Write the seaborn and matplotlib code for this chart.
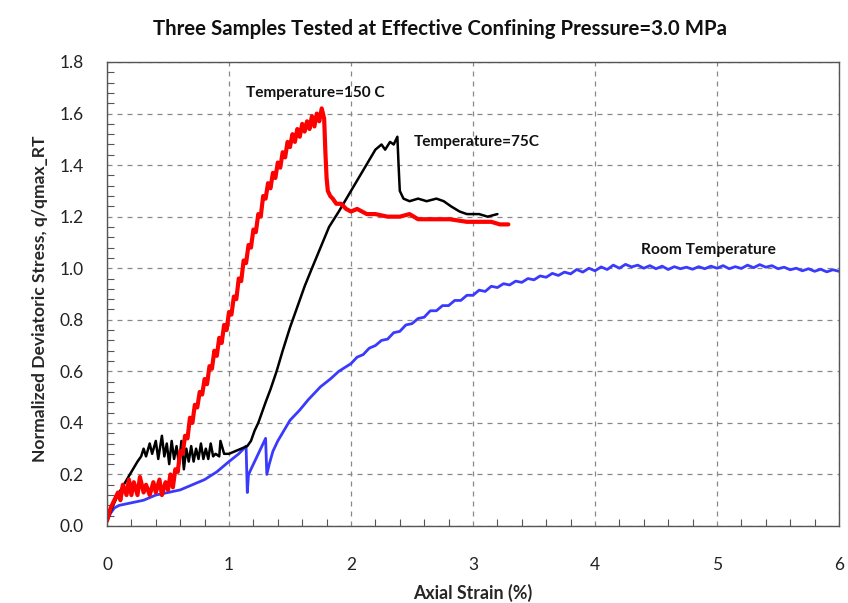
import numpy as np
import pandas as pd
import matplotlib
matplotlib.use("Agg")
import matplotlib.pyplot as plt
import seaborn as sns

# ---------------- data ----------------
red_x = [0.00, 0.03, 0.06, 0.09, 0.11, 0.13, 0.16, 0.18, 0.20, 0.22, 0.25, 0.27, 0.30, 0.32,
         0.35, 0.38, 0.40, 0.43, 0.45, 0.48, 0.50, 0.52, 0.54,
         0.56, 0.58, 0.60, 0.62, 0.64, 0.66, 0.68, 0.70, 0.72, 0.74, 0.76, 0.78, 0.80, 0.82,
         0.84, 0.86, 0.88, 0.90, 0.92, 0.94, 0.96, 0.98, 1.00, 1.02, 1.04, 1.06, 1.08, 1.10,
         1.12, 1.14, 1.16, 1.18, 1.20, 1.22, 1.24, 1.26, 1.28, 1.30, 1.32, 1.34, 1.36, 1.38,
         1.40, 1.42, 1.44, 1.46, 1.48, 1.50, 1.52, 1.54, 1.56, 1.58, 1.60, 1.62, 1.64, 1.66,
         1.68, 1.70, 1.72, 1.74, 1.76, 1.78,
         1.79, 1.80, 1.81, 1.83, 1.85, 1.88, 1.92, 1.96, 2.00, 2.05, 2.13, 2.20, 2.30,
         2.40, 2.48, 2.55, 2.65, 2.81, 2.95, 3.05, 3.15, 3.22, 3.29]
red_y = [0.02, 0.07, 0.10, 0.13, 0.10, 0.16, 0.12, 0.18, 0.12, 0.17, 0.12, 0.19, 0.13, 0.16,
         0.12, 0.17, 0.13, 0.18, 0.12, 0.17, 0.14, 0.20, 0.15,
         0.22, 0.21, 0.29, 0.28, 0.35, 0.34, 0.42, 0.40, 0.47, 0.46, 0.52, 0.51, 0.57, 0.55,
         0.62, 0.61, 0.68, 0.66, 0.73, 0.71, 0.78, 0.76, 0.83, 0.82, 0.89, 0.88, 0.96, 0.95,
         1.03, 1.02, 1.09, 1.08, 1.15, 1.14, 1.21, 1.20, 1.28, 1.27, 1.33, 1.31, 1.37, 1.35,
         1.41, 1.39, 1.45, 1.43, 1.49, 1.47, 1.52, 1.49, 1.54, 1.51, 1.56, 1.53, 1.57, 1.54,
         1.59, 1.55, 1.60, 1.57, 1.62, 1.58,
         1.45, 1.35, 1.30, 1.28, 1.27, 1.25, 1.25, 1.23, 1.22, 1.23, 1.21, 1.21, 1.20,
         1.20, 1.21, 1.19, 1.19, 1.19, 1.18, 1.18, 1.18, 1.17, 1.17]

black_x = [0.00, 0.05, 0.10, 0.15, 0.20, 0.25, 0.28, 0.30, 0.32, 0.35, 0.37, 0.40, 0.42, 0.45,
           0.47, 0.49, 0.51, 0.53, 0.55, 0.57, 0.59, 0.61, 0.63, 0.65, 0.67, 0.69, 0.71, 0.73,
           0.75, 0.77, 0.79, 0.81, 0.83, 0.85, 0.87, 0.89, 0.92, 0.93, 0.96, 1.00, 1.05, 1.10,
           1.15, 1.18, 1.21, 1.24, 1.27, 1.30, 1.34, 1.39, 1.44, 1.50, 1.56, 1.62, 1.68, 1.75,
           1.82, 1.90, 1.95, 2.00, 2.05, 2.10, 2.15, 2.20, 2.25, 2.28, 2.32, 2.35, 2.38, 2.39,
           2.40, 2.43, 2.48, 2.55, 2.62, 2.70, 2.76, 2.82, 2.89, 2.95, 3.05, 3.12, 3.20]
black_y = [0.02, 0.08, 0.13, 0.17, 0.21, 0.25, 0.27, 0.30, 0.27, 0.32, 0.28, 0.33, 0.26, 0.35,
           0.27, 0.32, 0.24, 0.33, 0.26, 0.31, 0.24, 0.33, 0.22, 0.30, 0.25, 0.31, 0.25, 0.30,
           0.26, 0.32, 0.26, 0.30, 0.26, 0.32, 0.27, 0.28, 0.27, 0.33, 0.28, 0.28, 0.29, 0.30,
           0.31, 0.33, 0.37, 0.40, 0.44, 0.48, 0.53, 0.60, 0.68, 0.77, 0.85, 0.93, 1.00, 1.08,
           1.16, 1.22, 1.26, 1.30, 1.34, 1.38, 1.42, 1.46, 1.48, 1.46, 1.49, 1.48, 1.51, 1.40,
           1.30, 1.27, 1.26, 1.27, 1.26, 1.27, 1.26, 1.24, 1.22, 1.21, 1.21, 1.20, 1.21]

blue_x = [0.00, 0.03, 0.06, 0.10, 0.20, 0.30, 0.40, 0.50, 0.60, 0.70, 0.80, 0.90, 1.00, 1.08,
          1.14, 1.15, 1.16, 1.20, 1.25, 1.30, 1.31, 1.33, 1.36, 1.40, 1.45, 1.50, 1.58, 1.65,
          1.75, 1.83, 1.90,
          2.00, 2.05, 2.10, 2.15, 2.20, 2.25, 2.30, 2.35, 2.40, 2.45, 2.50, 2.55, 2.60, 2.65,
          2.70, 2.75, 2.80, 2.85, 2.90, 2.95, 3.00, 3.05, 3.10, 3.15, 3.20, 3.25, 3.30, 3.35,
          3.40, 3.45, 3.50, 3.55, 3.60, 3.65, 3.70, 3.75, 3.80, 3.85, 3.90, 3.95, 4.00, 4.05,
          4.10, 4.15, 4.20, 4.25, 4.30, 4.35, 4.40, 4.45, 4.50, 4.55, 4.60, 4.65, 4.70, 4.75,
          4.80, 4.85, 4.90, 4.95, 5.00, 5.05, 5.10, 5.15, 5.20, 5.25, 5.30, 5.35, 5.40, 5.45,
          5.50, 5.55, 5.60, 5.65, 5.70, 5.75, 5.80, 5.85, 5.90, 5.95, 6.00]
blue_y = [0.02, 0.05, 0.07, 0.08, 0.09, 0.10, 0.12, 0.13, 0.14, 0.16, 0.18, 0.21, 0.25, 0.28,
          0.31, 0.13, 0.20, 0.24, 0.29, 0.34, 0.20, 0.24, 0.29, 0.33, 0.37, 0.41, 0.45, 0.49,
          0.54, 0.57, 0.60,
          0.63, 0.655, 0.665, 0.69, 0.70, 0.72, 0.725, 0.75, 0.755, 0.78, 0.785, 0.805, 0.81, 0.835,
          0.835, 0.855, 0.855, 0.875, 0.875, 0.895, 0.895, 0.915, 0.91, 0.93, 0.925, 0.94, 0.935, 0.95,
          0.945, 0.96, 0.955, 0.97, 0.965, 0.98, 0.972, 0.985, 0.978, 0.995, 0.985, 1.00, 0.99, 1.005,
          0.995, 1.012, 1.000, 1.015, 1.005, 1.012, 1.000, 1.010, 0.998, 1.008, 0.995, 1.006, 0.998, 1.004,
          0.996, 1.006, 0.998, 1.008, 1.000, 1.010, 0.998, 1.006, 0.999, 1.012, 1.002, 1.014, 1.004, 1.010,
          0.998, 1.004, 0.994, 1.000, 0.990, 0.998, 0.988, 0.996, 0.986, 0.994, 0.988]

x_ticks = [0, 1, 2, 3, 4, 5, 6]
y_ticks = [0.0, 0.2, 0.4, 0.6, 0.8, 1.0, 1.2, 1.4, 1.6, 1.8]

title = "Three Samples Tested at Effective Confining Pressure=3.0 MPa"
xlabel = "Axial Strain (%)"
ylabel = "Normalized Deviatoric Stress, q/qmax_RT"
labels = ["Temperature=150 C", "Temperature=75C", "Room Temperature"]

# ---------------- plotting ----------------
sns.set_style("white")
plt.rcParams["font.family"] = ["Lato", "DejaVu Sans"]

fig = plt.figure(figsize=(8.48, 6.03), dpi=100)
ax = fig.add_axes([107 / 848, 1 - 526 / 603, (839 - 107) / 848, (526 - 62) / 603])

df_blue = pd.DataFrame({"x": blue_x, "y": blue_y})
df_black = pd.DataFrame({"x": black_x, "y": black_y})
df_red = pd.DataFrame({"x": red_x, "y": red_y})

sns.lineplot(data=df_blue, x="x", y="y", sort=False, estimator=None, color="#3a3aff", lw=2.0, ax=ax)
sns.lineplot(data=df_black, x="x", y="y", sort=False, estimator=None, color="black", lw=1.8, ax=ax)
sns.lineplot(data=df_red, x="x", y="y", sort=False, estimator=None, color="#ff0000", lw=3.0, ax=ax)

ax.set_xlim(0, 6)
ax.set_ylim(0, 1.8)
ax.set_xticks(x_ticks)
ax.set_xticklabels([str(t) for t in x_ticks])
ax.set_yticks(y_ticks)
ax.set_yticklabels([f"{t:.1f}" for t in y_ticks])
ax.set_xticks(np.arange(0, 6.01, 0.2), minor=True)
ax.set_yticks(np.arange(0, 1.801, 0.04), minor=True)
ax.tick_params(axis="both", which="major", length=0, labelsize=12.5, colors="#222222")
ax.tick_params(axis="x", which="major", pad=22)
ax.tick_params(axis="y", which="major", pad=17)
ax.tick_params(axis="x", which="minor", direction="in", length=5, width=0.8, color="#555555", bottom=True)
ax.tick_params(axis="y", which="minor", direction="in", length=5, width=0.8, color="#555555", left=True)

ax.grid(True, which="major", linestyle=(0, (4, 4)), color="#888888", lw=0.9)
for s in ax.spines.values():
    s.set_visible(True)
    s.set_color("#555555")
    s.set_linewidth(1.0)

ax.set_xlabel(xlabel, fontsize=12.8, fontweight="bold", labelpad=8)
ax.set_ylabel(ylabel, fontsize=12.6, fontweight="bold")
ax.yaxis.set_label_coords(-0.081, 0.49)
fig.text(0.519, 1 - 29 / 603, title, ha="center", va="center", fontsize=14.7, fontweight="bold", color="#111111")

ax.text(1.71, 1.68, labels[0], ha="center", va="center", fontsize=11.1, fontweight="bold", color="#111111")
ax.text(3.03, 1.49, labels[1], ha="center", va="center", fontsize=11.1, fontweight="bold", color="#111111")
ax.text(4.93, 1.07, labels[2], ha="center", va="center", fontsize=11.2, fontweight="bold", color="#111111")

fig.savefig("out.png", dpi=100, facecolor="white")
